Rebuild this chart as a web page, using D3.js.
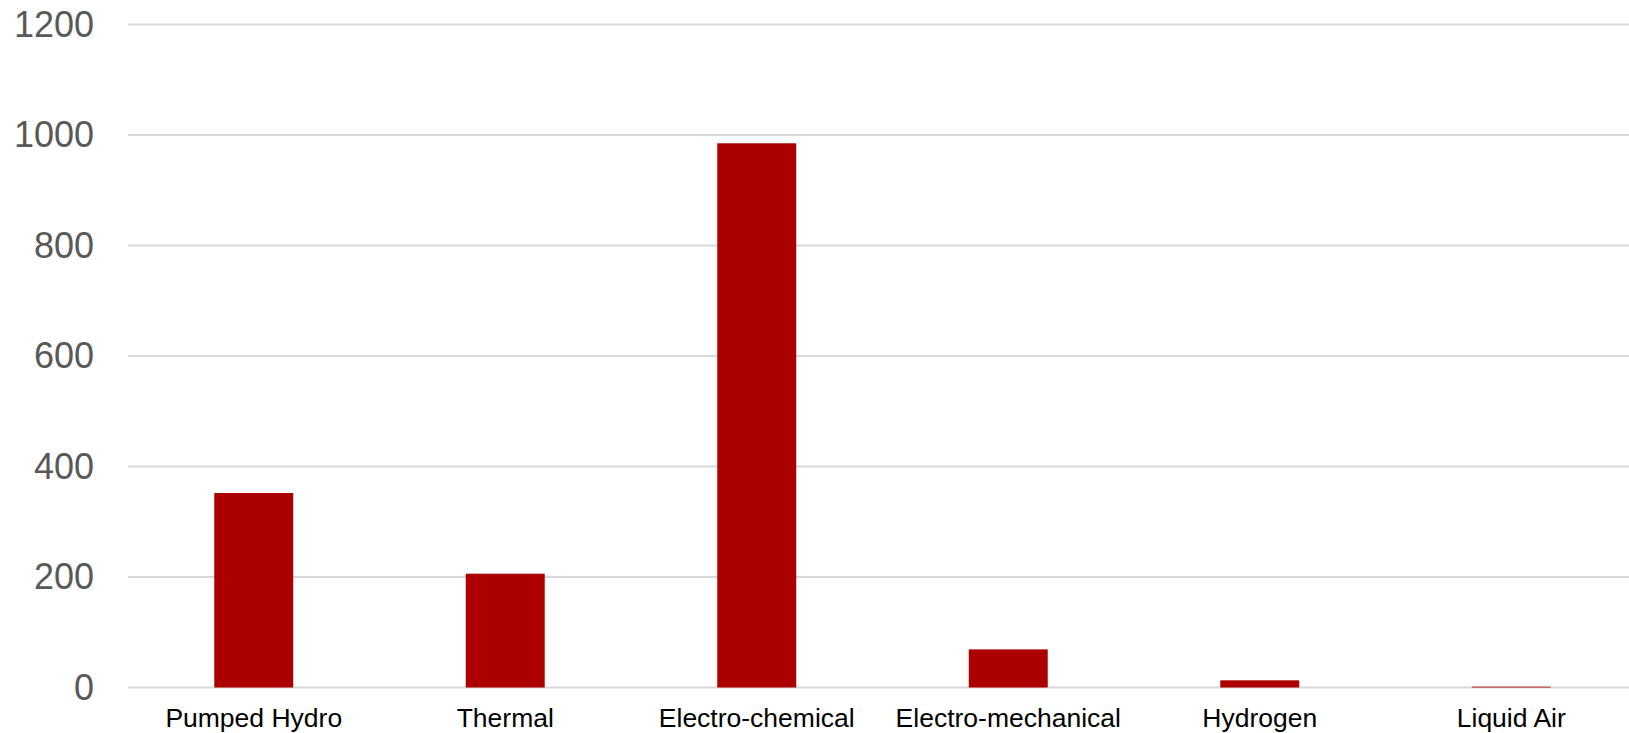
<!DOCTYPE html>
<html>
<head>
<meta charset="utf-8">
<script src="https://cdn.jsdelivr.net/npm/d3@7"></script>
<style>
  html, body { margin: 0; padding: 0; background: #fff; }
  svg { display: block; font-family: "Liberation Sans", Arial, sans-serif; }
</style>
</head>
<body>
<svg id="chart" width="1629" height="733"></svg>
<script>
const categories = ["Pumped Hydro", "Thermal", "Electro-chemical", "Electro-mechanical", "Hydrogen", "Liquid Air"];
const values = [352, 206, 985, 69, 13, 1.5];
const yTicks = [0, 200, 400, 600, 800, 1000, 1200];

const svg = d3.select("#chart");
const plotLeft = 128, plotRight = 1637, gridRight = 1629;
const y = d3.scaleLinear().domain([0, 1200]).range([687.5, 24.5]);
const x = d3.scaleBand().domain(categories).range([plotLeft, plotRight]).paddingInner(0.686).paddingOuter(0.343);

// gridlines
svg.append("g").selectAll("line").data(yTicks).join("line")
  .attr("x1", plotLeft).attr("x2", gridRight)
  .attr("y1", d => y(d)).attr("y2", d => y(d))
  .attr("stroke", "#d9d9d9").attr("stroke-width", 2);

// y axis labels
const yAxis = d3.axisLeft(y).tickValues(yTicks).tickFormat(d3.format("d")).tickSize(0).tickPadding(0);
const gy = svg.append("g").attr("transform", "translate(94,0)").call(yAxis);
gy.select(".domain").remove();
gy.selectAll("text").attr("font-size", 36).attr("fill", "#595959")
  .attr("font-family", "Liberation Sans, Arial, sans-serif");

// bars
svg.append("g").selectAll("rect").data(categories).join("rect")
  .attr("x", d => x(d))
  .attr("width", x.bandwidth())
  .attr("y", (d, i) => y(values[i]))
  .attr("height", (d, i) => y(0) - y(values[i]))
  .attr("fill", "#ac0000");

// x axis labels
const xAxis = d3.axisBottom(x).tickSize(0).tickPadding(0);
const gx = svg.append("g").attr("transform", "translate(0,727)").call(xAxis);
gx.select(".domain").remove();
gx.selectAll("text").attr("font-size", 26.5).attr("fill", "#000").attr("dy", 0)
  .attr("y", 0)
  .attr("font-family", "Liberation Sans, Arial, sans-serif");
</script>
</body>
</html>
